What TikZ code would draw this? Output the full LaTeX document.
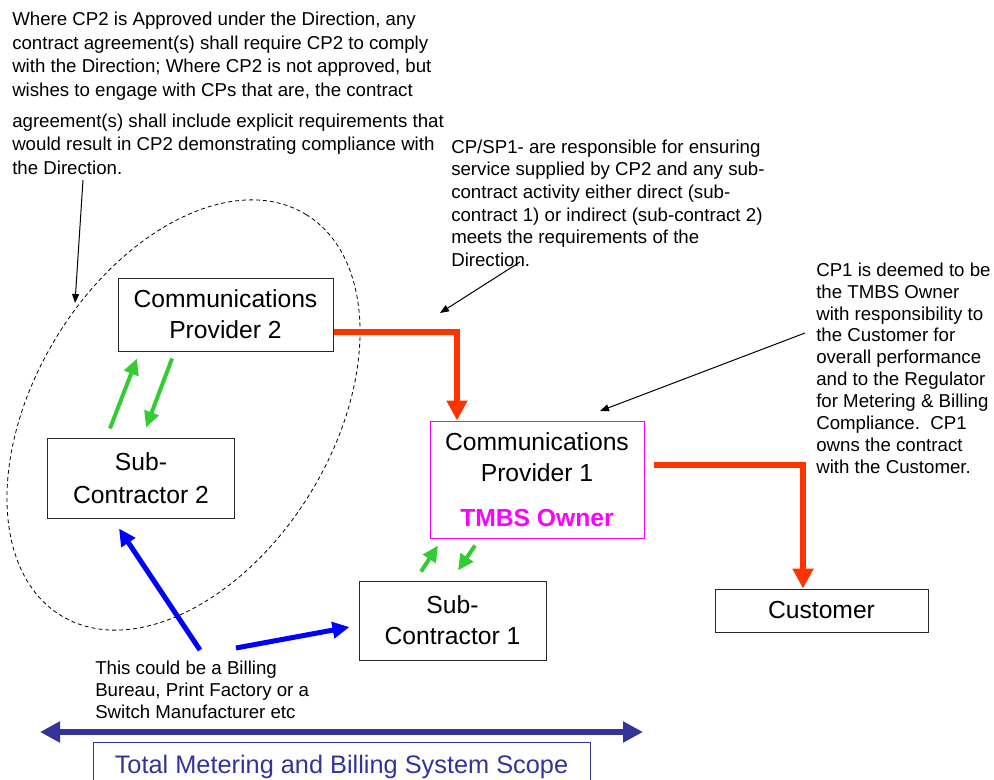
\documentclass[tikz,border=0pt]{standalone}
\usepackage{fontspec}
\setmainfont{Liberation Sans}
\usetikzlibrary{arrows.meta}

\definecolor{flowred}{RGB}{255,51,0}
\definecolor{linkgreen}{RGB}{51,204,51}
\definecolor{supplyblue}{RGB}{0,0,255}
\definecolor{scopeblue}{RGB}{51,51,153}
\definecolor{ownerpink}{RGB}{255,0,255}

\tikzset{
  party/.style={draw=black!85, line width=0.75pt, inner sep=0pt, align=center,
    font=\fontsize{18.5}{23.25}\selectfont},
  note/.style={inner sep=0pt, anchor=north west, align=left},
  redflow/.style={draw=flowred, line width=4.5pt, line join=miter,
    -{Triangle[length=15pt,width=15pt]}},
  greenflow/.style={draw=linkgreen, line width=3pt,
    -{Triangle[length=12pt,width=11pt]}},
  blueflow/.style={draw=supplyblue, line width=3.75pt,
    -{Triangle[length=12.75pt,width=12pt]}},
  pointer/.style={draw=black, line width=0.75pt,
    -{Triangle[length=6.75pt,width=5.25pt]}},
  scopearrow/.style={draw=scopeblue, line width=4.5pt,
    {Triangle[length=15pt,width=15pt]}-{Triangle[length=15pt,width=15pt]}},
  ring/.style={draw=black, line width=0.6pt, dash pattern=on 3pt off 2.25pt}
}

\begin{document}
\begin{tikzpicture}[x=0.75pt,y=-0.75pt]
\useasboundingbox (0,0) rectangle (994,780);
\clip (0,0) rectangle (994,780);

% dashed boundary round CP2 and its sub-contractor
\draw[ring, rotate around={58.6:(183.5,415)}] (183.5,415) ellipse [x radius=235, y radius=149];

% parties
\node[party, minimum width=161.25pt, minimum height=54.75pt] (cp2) at (225.5,314.5)
  {Communications\\Provider 2};
\node[party, minimum width=140.6pt, minimum height=60pt,
  font=\fontsize{18.5}{24.75}\selectfont] (sc2) at (141,478)
  {Sub-\\Contractor 2};
\node[party, draw=ownerpink, minimum width=160.5pt, minimum height=87.75pt] (cp1) at (537,479.5)
  {Communications\\Provider 1\\[10.5pt]\textcolor{ownerpink}{\bfseries TMBS Owner}};
\node[party, minimum width=140.25pt, minimum height=59.25pt] (sc1) at (452.5,620.5)
  {Sub-\\Contractor 1};
\node[party, minimum width=159.75pt, minimum height=32.25pt] (cust) at (821.5,610.5)
  {Customer};
\node[party, draw=scopeblue, minimum width=372.75pt, minimum height=37.5pt,
  text=scopeblue, font=\fontsize{19}{23}\selectfont] (scope) at (341.5,767)
  {Total Metering and Billing System Scope};

% explanatory notes
\node[note, font=\fontsize{14}{17.6}\selectfont] (noteA) at (12,12)
  {Where CP2 is Approved under the Direction, any\\
   contract agreement(s) shall require CP2 to comply\\
   with the Direction; Where CP2 is not approved, but\\
   wishes to engage with CPs that are, the contract\\[5.6pt]
   agreement(s) shall include explicit requirements that\\
   would result in CP2 demonstrating compliance with\\
   the Direction.};
\node[note, font=\fontsize{14}{17}\selectfont] (noteB) at (451,139.5)
  {CP/SP1- are responsible for ensuring\\
   service supplied by CP2 and any sub-\\
   contract activity either direct (sub-\\
   contract 1) or indirect (sub-contract 2)\\
   meets the requirements of the\\
   Direction.};
\node[note, font=\fontsize{14}{16.4}\selectfont] (noteC) at (816,262.5)
  {CP1 is deemed to be\\
   the TMBS Owner\\
   with responsibility to\\
   the Customer for\\
   overall performance\\
   and to the Regulator\\
   for Metering \& Billing\\
   Compliance.\ \ CP1\\
   owns the contract\\
   with the Customer.};
\node[note, font=\fontsize{14}{16.5}\selectfont] (noteD) at (95,660.5)
  {This could be a Billing\\
   Bureau, Print Factory or a\\
   Switch Manufacturer etc};

% free ends of the pointers and supply arrows
\coordinate (pA) at (83,180);
\coordinate (pAend) at (75,303);
\coordinate (pB) at (520,262);
\coordinate (pBend) at (440,313);
\coordinate (pC) at (805,333);
\coordinate (pCend) at (600,411);
\coordinate (srcL) at (200,650);
\coordinate (srcR) at (236,648);
\coordinate (scopeL) at (40,732);
\coordinate (scopeR) at (643,732);

% pointers from the notes
\draw[pointer] (pA) -- (pAend);
\draw[pointer] (pB) -- (pBend);
\draw[pointer] (pC) -- (pCend);

% service flow towards the customer
\draw[redflow] ([yshift=-13.125pt]cp2.east) -| ([xshift=-60pt]cp1.north);
\draw[redflow] ([xshift=6.75pt,yshift=10.875pt]cp1.east) -| ([xshift=-13.875pt]cust.north);

% contract links with the sub-contractors
\draw[greenflow] ([xshift=-23.25pt,yshift=6.75pt]sc2.north) -- ([xshift=-66.4pt,yshift=-5.25pt]cp2.south);
\draw[greenflow] ([xshift=-40.1pt,yshift=-5.25pt]cp2.south) -- ([xshift=3.75pt,yshift=7.5pt]sc2.north);
\draw[greenflow] ([xshift=-23.6pt,yshift=6.75pt]sc1.north) -- ([xshift=-74.25pt,yshift=-5.25pt]cp1.south);
\draw[greenflow] ([xshift=-46.5pt,yshift=-5.25pt]cp1.south) -- ([xshift=4.1pt,yshift=7.5pt]sc1.north);

% third-party suppliers
\draw[blueflow] (srcL) -- ([xshift=-16.5pt,yshift=-7.5pt]sc2.south);
\draw[blueflow] (srcR) -- ([xshift=-6.75pt,yshift=-4.9pt]sc1.west);

% overall scope
\draw[scopearrow] (scopeL) -- (scopeR);
\end{tikzpicture}
\end{document}
